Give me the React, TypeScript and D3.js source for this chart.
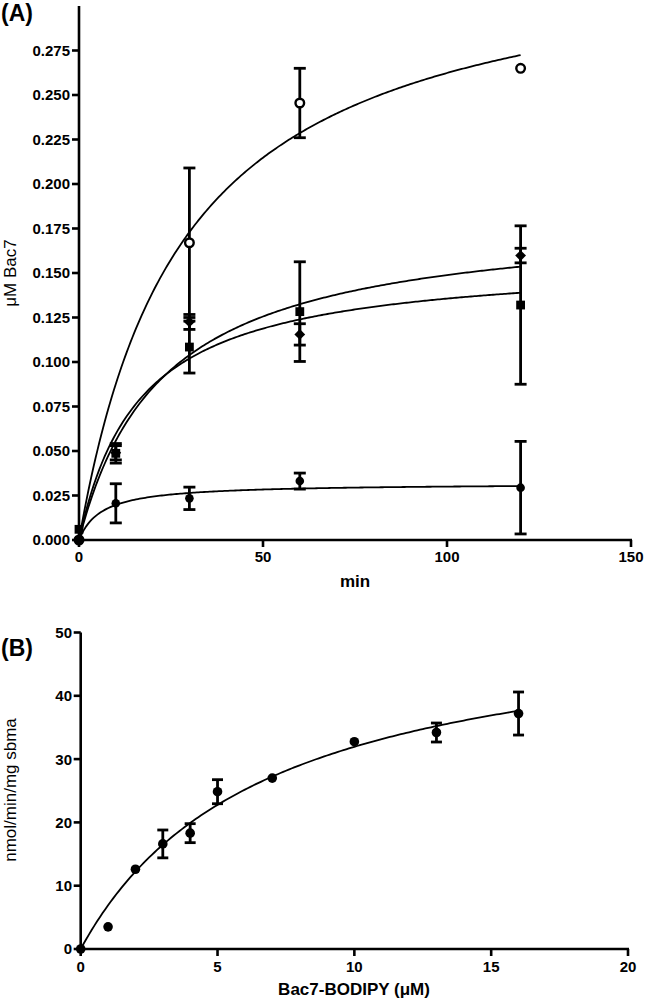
import React from "react";
import * as d3 from "d3";

// ---------- Panel A data ----------
const timesA = [0, 10, 30, 60, 120];
const openCircleY = [0, NaN, 0.167, 0.2455, 0.265];
const openCircleErr = [0, 0, 0.042, 0.0195, 0];
const diamondY = [0, 0.049, 0.1225, 0.1155, 0.1598];
const diamondErr = [0, 0.004, 0.0042, 0.006, 0.0041];
const squareY = [0.006, 0.0487, 0.1084, 0.1283, 0.132];
const squareErr = [0, 0.0055, 0.0146, 0.028, 0.0445];
const filledCircleY = [0, 0.0206, 0.0234, 0.0331, 0.0294];
const filledCircleErr = [0, 0.011, 0.0063, 0.0045, 0.026];
// hyperbolic fits [Bmax, K]
const openCircleFit = [0.337, 28.45];
const diamondFit = [0.1827, 22.76];
const squareFit = [0.158, 16.5];
const filledCircleFit = [0.03186, 6.17];
const yTicksA = [0, 0.025, 0.05, 0.075, 0.1, 0.125, 0.15, 0.175, 0.2, 0.225, 0.25, 0.275];
const xTicksA = [0, 50, 100, 150];

// ---------- Panel B data ----------
const concB = [0, 1, 2, 3, 4, 5, 7, 10, 13, 16];
const rateB = [0, 3.5, 12.6, 16.6, 18.3, 24.85, 27.0, 32.75, 34.2, 37.2];
const rateErrB = [0, 0, 0, 2.2, 1.5, 1.9, 0, 0, 1.5, 3.4];
const fitB = [53.5, 6.75];
const yTicksB = [0, 10, 20, 30, 40, 50];
const xTicksB = [0, 5, 10, 15, 20];

const FONT = "'Liberation Sans', Arial, Helvetica, sans-serif";

function hyper(p: number[], x: number) {
  return (p[0] * x) / (p[1] + x);
}

export default function App() {
  const xA = d3.scaleLinear().domain([0, 150]).range([79, 631]);
  const yA = d3.scaleLinear().domain([0, 0.3]).range([540, 6]);
  const xB = d3.scaleLinear().domain([0, 20]).range([80.7, 628]);
  const yB = d3.scaleLinear().domain([0, 50]).range([949, 632.5]);

  const curveA = (p: number[]) =>
    d3
      .line<number>()
      .x((d) => xA(d))
      .y((d) => yA(hyper(p, d)))(d3.range(0, 120.01, 0.5)) as string;
  const curveB = d3
    .line<number>()
    .x((d) => xB(d))
    .y((d) => yB(hyper(fitB, d)))(d3.range(0, 16.01, 0.1)) as string;

  const errBar = (x: number, yTop: number, yBot: number, key: string, cap = 12) => (
    <g key={key} stroke="#000" strokeWidth={2.8}>
      <line x1={x} x2={x} y1={yTop} y2={yBot} />
      <line x1={x - cap / 2} x2={x + cap / 2} y1={yTop} y2={yTop} />
      <line x1={x - cap / 2} x2={x + cap / 2} y1={yBot} y2={yBot} />
    </g>
  );

  const seriesA = [
    { y: openCircleY, e: openCircleErr, shape: "open" },
    { y: squareY, e: squareErr, shape: "square" },
    { y: filledCircleY, e: filledCircleErr, shape: "circle" },
    { y: diamondY, e: diamondErr, shape: "diamond" },
  ];

  const marker = (shape: string, cx: number, cy: number, key: string) => {
    if (shape === "square")
      return <rect key={key} x={cx - 4.4} y={cy - 4.4} width={8.8} height={8.8} fill="#000" />;
    if (shape === "diamond")
      return (
        <path
          key={key}
          d={`M${cx},${cy - 5.4}L${cx + 5.4},${cy}L${cx},${cy + 5.4}L${cx - 5.4},${cy}Z`}
          fill="#000"
        />
      );
    if (shape === "circle") return <circle key={key} cx={cx} cy={cy} r={4.3} fill="#000" />;
    return <circle key={key} cx={cx} cy={cy} r={4.3} fill="#fff" stroke="#000" strokeWidth={2.4} />;
  };

  const tickFont = { fontFamily: FONT, fontWeight: 700, fontSize: 15 } as const;

  return (
    <svg width={645} height={1000} style={{ position: "absolute", left: 0, top: 0, background: "#fff" }}>
      <rect width={645} height={1000} fill="#fff" />
      {/* ===== Panel A ===== */}
      <text x={1} y={21} fontFamily={FONT} fontWeight={700} fontSize={23}>
        (A)
      </text>
      <g stroke="#000" strokeWidth={2.6} fill="none">
        <line x1={xA(0)} x2={xA(0)} y1={yA(0.3)} y2={yA(0) + 1.3} />
        <line x1={xA(0) - 1.3} x2={xA(150) + 1} y1={yA(0)} y2={yA(0)} />
        {yTicksA.map((t) => (
          <line key={"yta" + t} x1={xA(0) - 7} x2={xA(0)} y1={yA(t)} y2={yA(t)} />
        ))}
        {xTicksA.map((t) => (
          <line key={"xta" + t} x1={xA(t)} x2={xA(t)} y1={yA(0)} y2={yA(0) + 7} />
        ))}
      </g>
      {yTicksA.map((t) => (
        <text key={"ytla" + t} x={70} y={yA(t)} dy="0.36em" textAnchor="end" {...tickFont}>
          {d3.format(".3f")(t)}
        </text>
      ))}
      {xTicksA.map((t) => (
        <text key={"xtla" + t} x={xA(t)} y={562} textAnchor="middle" {...tickFont}>
          {t}
        </text>
      ))}
      <text x={355} y={587} textAnchor="middle" fontFamily={FONT} fontWeight={700} fontSize={17}>
        min
      </text>
      <text transform={`translate(16,273) rotate(-90)`} textAnchor="middle" fontFamily={FONT} fontSize={17}>
        μM Bac7
      </text>
      <g fill="none" stroke="#000" strokeWidth={1.8}>
        <path d={curveA(openCircleFit)} />
        <path d={curveA(diamondFit)} />
        <path d={curveA(squareFit)} />
        <path d={curveA(filledCircleFit)} />
      </g>
      {seriesA.map((s, si) =>
        timesA.map((t, i) =>
          !isNaN(s.y[i]) && s.e[i] > 0
            ? errBar(xA(t), yA(s.y[i] + s.e[i]), yA(s.y[i] - s.e[i]), `ea${si}-${i}`)
            : null
        )
      )}
      {seriesA.map((s, si) =>
        timesA.map((t, i) => (!isNaN(s.y[i]) ? marker(s.shape, xA(t), yA(s.y[i]), `ma${si}-${i}`) : null))
      )}

      {/* ===== Panel B ===== */}
      <text x={1} y={656} fontFamily={FONT} fontWeight={700} fontSize={23}>
        (B)
      </text>
      <g stroke="#000" strokeWidth={2.6} fill="none">
        <line x1={xB(0)} x2={xB(0)} y1={yB(50)} y2={yB(0) + 1.3} />
        <line x1={xB(0) - 1.3} x2={xB(20) + 1} y1={yB(0)} y2={yB(0)} />
        {yTicksB.map((t) => (
          <line key={"ytb" + t} x1={xB(0) - 7} x2={xB(0)} y1={yB(t)} y2={yB(t)} />
        ))}
        {xTicksB.map((t) => (
          <line key={"xtb" + t} x1={xB(t)} x2={xB(t)} y1={yB(0)} y2={yB(0) + 7} />
        ))}
      </g>
      {yTicksB.map((t) => (
        <text key={"ytlb" + t} x={72} y={yB(t)} dy="0.36em" textAnchor="end" {...tickFont}>
          {t}
        </text>
      ))}
      {xTicksB.map((t) => (
        <text key={"xtlb" + t} x={xB(t)} y={972} textAnchor="middle" {...tickFont}>
          {t}
        </text>
      ))}
      <text x={354} y={995} textAnchor="middle" fontFamily={FONT} fontWeight={700} fontSize={17}>
        Bac7-BODIPY (μM)
      </text>
      <text transform={`translate(16,790) rotate(-90)`} textAnchor="middle" fontFamily={FONT} fontSize={17}>
        nmol/min/mg sbma
      </text>
      <path d={curveB} fill="none" stroke="#000" strokeWidth={1.8} />
      {concB.map((c, i) =>
        rateErrB[i] > 0
          ? errBar(xB(c), yB(rateB[i] + rateErrB[i]), yB(rateB[i] - rateErrB[i]), `eb${i}`, 11)
          : null
      )}
      {concB.map((c, i) => (
        <circle key={"mb" + i} cx={xB(c)} cy={yB(rateB[i])} r={4.8} fill="#000" />
      ))}
    </svg>
  );
}
